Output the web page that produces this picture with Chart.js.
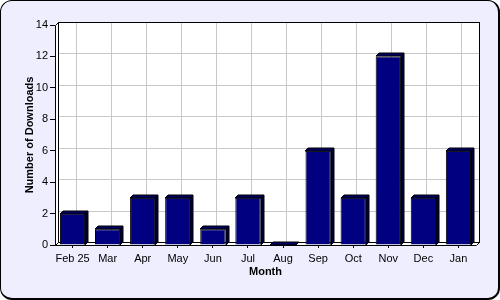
<!DOCTYPE html>
<html>
<head>
<meta charset="utf-8">
<script src="https://cdn.jsdelivr.net/npm/chart.js"></script>
<style>
  html, body { margin: 0; padding: 0; background: #fff; }
  #frame {
    position: absolute; left: 0; top: 0; width: 500px; height: 300px;
    box-sizing: border-box; border: 1px solid #000;
    border-right-width: 2px; border-bottom-width: 2px;
    border-radius: 12px; background: #eeeeff;
  }
  canvas { position: absolute; left: 0; top: 0; }
</style>
</head>
<body>
<div id="frame"></div>
<canvas id="chart" width="500" height="300"></canvas>
<script>
// data
const months = ["Feb 25", "Mar", "Apr", "May", "Jun", "Jul", "Aug", "Sep", "Oct", "Nov", "Dec", "Jan"];
const downloads = [2, 1, 3, 3, 1, 3, 0, 6, 3, 12, 3, 6];
const yMin = 0, yMax = 14, yStep = 2;

const DEPTH = 3;

// back wall, grid, floor and the side/top faces of the bars
const fake3d = {
  id: "fake3d",
  beforeDatasetsDraw(chart) {
    const { ctx, chartArea: a, scales: { x, y } } = chart;
    const d = DEPTH;
    ctx.save();
    ctx.lineWidth = 1;
    // back wall
    ctx.fillStyle = "#fff";
    ctx.fillRect(a.left + d, a.top - d, a.right - a.left, a.bottom - a.top);
    ctx.strokeStyle = "#c8c8c8";
    ctx.beginPath();
    y.ticks.forEach(t => {
      const py = Math.round(y.getPixelForValue(t.value)) - d + 0.5;
      ctx.moveTo(a.left + d, py);
      ctx.lineTo(a.right + d, py);
    });
    x.ticks.forEach((t, i) => {
      const px = Math.round(x.getPixelForValue(i)) + d + 0.5;
      ctx.moveTo(px, a.top - d);
      ctx.lineTo(px, a.bottom - d);
    });
    ctx.stroke();
    ctx.strokeStyle = "#000";
    ctx.strokeRect(Math.round(a.left + d) + 0.5, Math.round(a.top - d) + 0.5,
                   Math.round(a.right - a.left), Math.round(a.bottom - a.top));
    // left wall
    const L = Math.round(a.left) + 0.5, R = Math.round(a.right) + 0.5;
    const T = Math.round(a.top) + 0.5, B = Math.round(a.bottom) + 0.5;
    ctx.fillStyle = "#fff";
    ctx.beginPath();
    ctx.moveTo(L, T); ctx.lineTo(L + d, T - d); ctx.lineTo(L + d, B - d); ctx.lineTo(L, B);
    ctx.closePath(); ctx.fill(); ctx.stroke();
    // floor
    ctx.beginPath();
    ctx.moveTo(L, B); ctx.lineTo(L + d, B - d); ctx.lineTo(R + d, B - d); ctx.lineTo(R, B);
    ctx.closePath(); ctx.fill(); ctx.stroke();
    ctx.restore();
  },
  afterDatasetsDraw(chart) {
    const { ctx } = chart;
    const d = DEPTH;
    ctx.save();
    ctx.lineWidth = 1;
    ctx.strokeStyle = "#000";
    chart.getDatasetMeta(0).data.forEach(el => {
      const p = el.getProps(["x", "y", "base", "width"], true);
      const l = Math.round(p.x - p.width / 2), r = Math.round(p.x + p.width / 2);
      const top = Math.round(p.y), bot = Math.round(p.base);
      // top face
      ctx.fillStyle = "#000060";
      ctx.beginPath();
      ctx.moveTo(l, top); ctx.lineTo(l + d, top - d); ctx.lineTo(r + d, top - d); ctx.lineTo(r, top);
      ctx.closePath(); ctx.fill(); ctx.stroke();
      // side face
      ctx.fillStyle = "#000038";
      ctx.beginPath();
      ctx.moveTo(r, top); ctx.lineTo(r + d, top - d); ctx.lineTo(r + d, bot - d); ctx.lineTo(r, bot);
      ctx.closePath(); ctx.fill(); ctx.stroke();
    });
    ctx.restore();
  }
};

Chart.defaults.font.family = "'Liberation Sans', Arial, sans-serif";
Chart.defaults.font.size = 11;
Chart.defaults.color = "#000";

new Chart(document.getElementById("chart").getContext("2d"), {
  type: "bar",
  data: {
    labels: months,
    datasets: [{
      data: downloads,
      backgroundColor: "#000080",
      borderColor: "#000",
      borderWidth: 1,
      barPercentage: 0.72,
      categoryPercentage: 1.0
    }]
  },
  options: {
    responsive: false,
    animation: false,
    layout: { padding: { top: 25, right: 24, left: 0, bottom: 0 } },
    plugins: { legend: { display: false }, tooltip: { enabled: false } },
    scales: {
      x: {
        afterFit: s => { s.height = 55; },
        border: { display: false },
        grid: { offset: false, drawOnChartArea: false, color: "rgba(0,0,0,0)", tickColor: "#000", tickLength: 3 },
        ticks: { padding: 4, maxRotation: 0, autoSkip: false },
        title: { display: true, text: "Month", font: { weight: "bold", size: 11 }, padding: { top: 0, bottom: 21 } }
      },
      y: {
        min: yMin,
        max: yMax,
        afterFit: s => { s.width = 55; },
        border: { display: false },
        grid: { drawOnChartArea: false, color: "rgba(0,0,0,0)", tickColor: "#000", tickLength: 5 },
        ticks: { stepSize: yStep, padding: 2 },
        title: { display: true, text: "Number of Downloads", font: { weight: "bold", size: 11 }, padding: { top: 23, bottom: 0 } }
      }
    }
  },
  plugins: [fake3d]
});
</script>
</body>
</html>
